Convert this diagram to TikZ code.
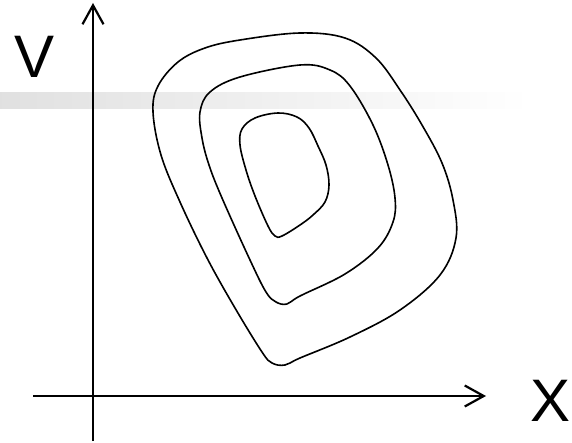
\documentclass[tikz,border=0pt]{standalone}
\usepackage{fontspec}
\setmainfont{Liberation Sans}
\usetikzlibrary{arrows.meta}

\begin{document}
\begin{tikzpicture}[x=1pt, y=-1pt,
    axis/.style={line width=2.2pt, -{Straight Barb[length=19pt, width=21pt, line width=2.2pt]}},
    contour/.style={line width=1.6pt, line join=round},
    axislabel/.style={inner sep=0pt, font=\fontsize{60}{60}\selectfont}]
    \useasboundingbox (0,0) rectangle (572,443);

    % 背景条
    \shade[left color=black!12, right color=white] (0,93) rectangle (530,109);

    % 坐标轴
    \coordinate (xs) at (33,396);
    \coordinate (xe) at (486,396);
    \coordinate (vs) at (93,441);
    \coordinate (ve) at (93,3);
    \draw[axis] (xs) -- (xe);
    \draw[axis] (vs) -- (ve);
    \node[axislabel] (vlabel) at (35,56.5) {V};
    \node[axislabel] (xlabel) at (551,400.5) {X};

    % 等值线
    \draw[contour] plot[smooth cycle, tension=0.6] coordinates {
        (240,40) (300,33) (345,38) (376,58) (400,90) (422,125) (442,163)
        (453,200) (456,238) (440,275) (400,310) (350,337) (300,358) (285,365)
        (272,363) (262,352) (235,308) (207,258) (180,202) (161,155)
        (153,112) (158,86) (178,62) (205,48)};
    \draw[contour] plot[smooth cycle, tension=0.6] coordinates {
        (240,77) (300,65) (330,70) (350,86) (373,125) (388,165) (395,198)
        (393,222) (378,248) (345,274) (300,296) (287,304) (276,302)
        (266,292) (250,260) (222,198) (209,165) (202,138) (200,112) (210,92)};
    \draw[contour] plot[smooth cycle, tension=0.6] coordinates {
        (278,113) (297,117) (309,128) (318,146) (326,165) (329,185) (325,202)
        (313,215) (300,225) (282,236) (275,236) (268,226) (255,196) (246,170)
        (240,145) (242,129) (255,118)};
\end{tikzpicture}
\end{document}
